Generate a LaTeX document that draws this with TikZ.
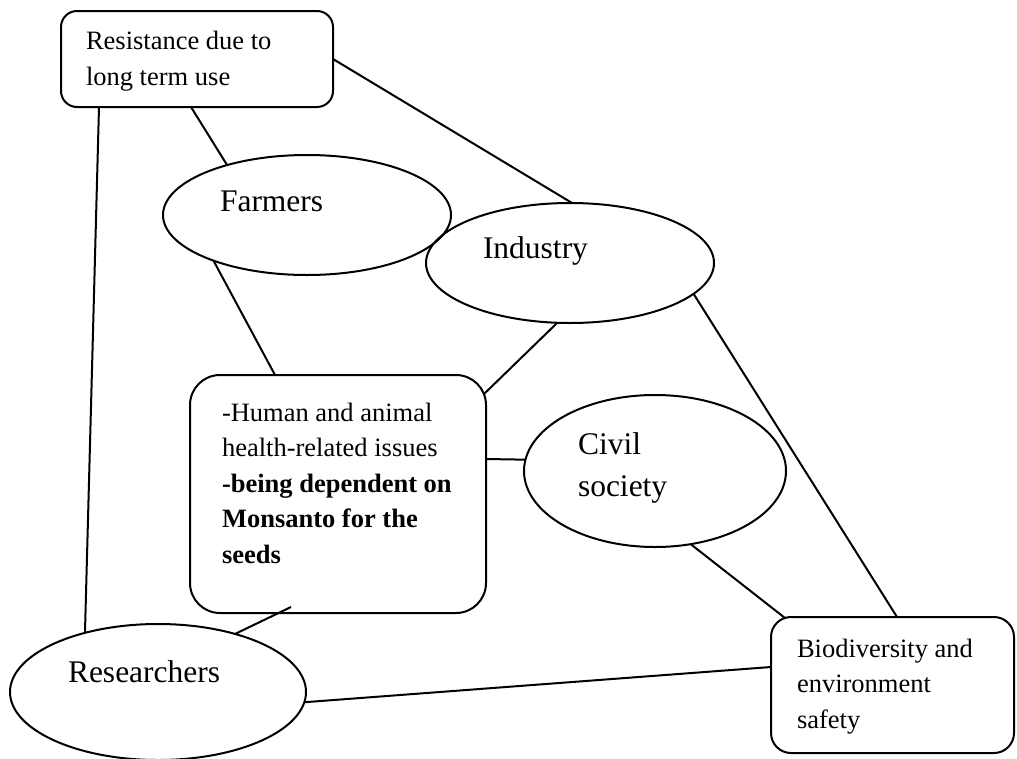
\documentclass[tikz,border=0pt]{standalone}
\usepackage{fontspec}
\setmainfont{Liberation Serif}
\usetikzlibrary{shapes.geometric,calc}
\begin{document}
\begin{tikzpicture}[x=1pt,y=-1pt,
  line width=2pt,
  every node/.style={inner sep=0pt,outer sep=0pt},
  roundbox/.style={draw,rectangle,rounded corners=#1},
  roundbox/.default=16pt,
  oval/.style={draw,ellipse},
  small/.style={font=\fontsize{26.5}{35.5}\selectfont,align=left,anchor=base west},
  large/.style={font=\fontsize{31.5}{42}\selectfont,align=left,anchor=base west}]

\useasboundingbox (0,0) rectangle (1017,758);

% shapes
\node[roundbox=16pt, minimum width=272pt, minimum height=96pt] (res) at (197,59) {};
\node[oval, minimum width=288pt, minimum height=120pt] (farm) at (307,215) {};
\node[oval, minimum width=288pt, minimum height=120pt] (ind) at (570,263) {};
\node[roundbox=30pt, minimum width=296pt, minimum height=238pt] (main) at (338,494) {};
\node[oval, minimum width=262pt, minimum height=152pt] (civ) at (655,471) {};
\node[oval, minimum width=296pt, minimum height=136pt] (rsr) at (158,692) {};
\node[roundbox=20pt, minimum width=243pt, minimum height=136pt] (bio) at (892.5,685) {};

% texts (each placed at the baseline of its last line)
\node[small] (res-t) at (86,85) {Resistance due to\\long term use};
\node[large] (farm-t) at (220,211) {Farmers};
\node[large] (ind-t) at (483,258) {Industry};
\node[small] (main-t) at (222,563) {-Human and animal\\health-related issues\\\textbf{-being dependent on}\\\textbf{Monsanto for the}\\\textbf{seeds}};
\node[large] (civ-t) at (578,496) {Civil\\society};
\node[large] (rsr-t) at (68,682) {Researchers};
\node[small] (bio-t) at (797,728) {Biodiversity and\\environment\\safety};

% connectors
\draw ($(res.south)+(-6,0)$) -- (farm.148);
\draw (res.east) -- (ind.88);
\draw ($(res.south west)+(38,0)$) -- (rsr.141);
\draw (farm.206) -- ($(main.north)+(-63,0)$);
\draw (ind.258) -- ($(main.north east)+(-2,19)$);
\draw ($(main.east)+(0,-35)$) -- (civ.175);
\draw (ind.346) -- ($(bio.north)+(4.5,0)$);
\draw (civ.296) -- ($(bio.north west)+(14,1)$);
\draw ($(main.south)+(-47,-6)$) -- (rsr.37);
\draw (rsr.356) -- ($(bio.west)+(0,-18)$);
\end{tikzpicture}
\end{document}
